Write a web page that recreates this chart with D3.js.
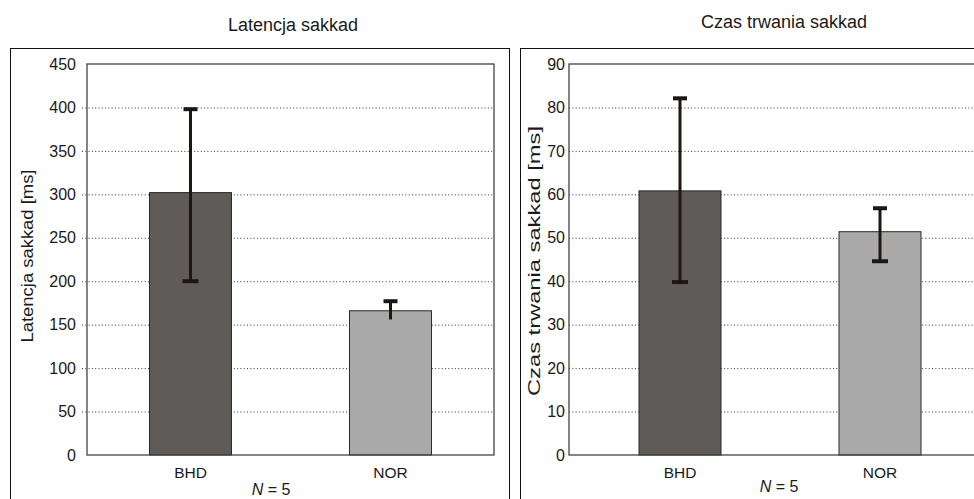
<!DOCTYPE html>
<html>
<head>
<meta charset="utf-8">
<title>Latencja i czas trwania sakkad</title>
<script src="https://d3js.org/d3.v7.min.js"></script>
<style>
  body { margin: 0; background: #fff; }
  svg { display: block; font-family: "Liberation Sans", Arial, sans-serif; }
  .grid line { stroke: #333; stroke-width: 1; stroke-dasharray: 1 2.3; }
  .grid .domain { display: none; }
  .yaxis .domain, .yaxis line { display: none; }
  .yaxis text { font-size: 16px; fill: #1a1a1a; }
</style>
</head>
<body>
<svg id="chart" width="974" height="499"></svg>
<script>
// categories on the x axis
var categories = ["BHD", "NOR"];

// Latencja sakkad [ms] - mean and error bar ends
var latencyMean = [302, 166];
var latencyLow = [200, 156];
var latencyHigh = [398, 177];
var latencyTicks = [0, 50, 100, 150, 200, 250, 300, 350, 400, 450];

// Czas trwania sakkad [ms] - mean and error bar ends
var durationMean = [60.8, 51.4];
var durationLow = [39.8, 44.6];
var durationHigh = [82.1, 56.8];
var durationTicks = [0, 10, 20, 30, 40, 50, 60, 70, 80, 90];

var barColors = ["#5f5b58", "#a9a9a9"];

var svg = d3.select("#chart");

function drawPanel(p) {
    var g = svg.append("g");

    // outer frame of the panel
    g.append("rect")
        .attr("x", p.box[0] + 0.5).attr("y", p.box[1] + 0.5)
        .attr("width", p.box[2]).attr("height", p.box[3])
        .attr("fill", "none").attr("stroke", "#111").attr("stroke-width", 1);

    var x = d3.scaleBand()
        .domain(categories)
        .range([p.left, p.right])
        .paddingInner(0.59)
        .paddingOuter(p.outer);

    var y = d3.scaleLinear()
        .domain([0, p.ticks[p.ticks.length - 1]])
        .range([p.bottom, p.top]);

    var rows = categories.map(function(c, i) {
        return { cat: c, mean: p.mean[i], low: p.low[i], high: p.high[i], lowCap: p.lowCap[i], color: barColors[i] };
    });

    // dotted grid lines
    g.append("g").attr("class", "grid")
        .attr("transform", "translate(" + (p.left - p.tickOut) + ",0)")
        .call(d3.axisLeft(y).tickValues(p.ticks.slice(1, -1)).tickSize(-(p.right - p.left + p.tickOut)).tickFormat(""));

    // tick labels
    g.append("g").attr("class", "yaxis")
        .attr("transform", "translate(" + p.left + ",0)")
        .call(d3.axisLeft(y).tickValues(p.ticks).tickSize(0).tickPadding(p.pad));

    // bars
    g.selectAll("rect.bar").data(rows).enter().append("rect")
        .attr("class", "bar")
        .attr("x", function(d) { return x(d.cat); })
        .attr("width", x.bandwidth())
        .attr("y", function(d) { return y(d.mean); })
        .attr("height", function(d) { return y(0) - y(d.mean); })
        .attr("fill", function(d) { return d.color; })
        .attr("stroke", "#2b2b2b")
        .attr("stroke-width", 1);

    // plot area border
    g.append("rect")
        .attr("x", p.left).attr("y", p.top)
        .attr("width", p.right - p.left).attr("height", p.bottom - p.top)
        .attr("fill", "none").attr("stroke", "#444").attr("stroke-width", 1.3);

    // error bars
    var eb = g.selectAll("g.err").data(rows).enter().append("g").attr("class", "err");
    var cx = function(d) { return x(d.cat) + x.bandwidth() / 2; };
    eb.append("line")
        .attr("x1", cx).attr("x2", cx)
        .attr("y1", function(d) { return y(d.low); })
        .attr("y2", function(d) { return y(d.high); })
        .attr("stroke", "#1c1714").attr("stroke-width", 3);
    eb.append("line")
        .attr("x1", function(d) { return cx(d) - 7; })
        .attr("x2", function(d) { return cx(d) + 7; })
        .attr("y1", function(d) { return y(d.high); })
        .attr("y2", function(d) { return y(d.high); })
        .attr("stroke", "#1c1714").attr("stroke-width", 4);
    eb.filter(function(d) { return d.lowCap; }).append("line")
        .attr("x1", function(d) { return cx(d) - 8; })
        .attr("x2", function(d) { return cx(d) + 8; })
        .attr("y1", function(d) { return y(d.low); })
        .attr("y2", function(d) { return y(d.low); })
        .attr("stroke", "#1c1714").attr("stroke-width", 4);

    // category labels
    g.selectAll("text.cat").data(rows).enter().append("text")
        .attr("class", "cat")
        .attr("x", cx)
        .attr("y", 478)
        .attr("text-anchor", "middle")
        .attr("font-size", 15.5)
        .attr("fill", "#1a1a1a")
        .text(function(d) { return d.cat; });

    // chart title
    g.append("text")
        .attr("x", p.titleX).attr("y", p.titleY)
        .attr("text-anchor", "middle")
        .attr("font-size", 18)
        .attr("fill", "#1a1a1a")
        .text(p.title);

    // y axis title
    g.append("text")
        .attr("transform", "translate(" + p.yTitleX + "," + p.yTitleY + ") rotate(-90)")
        .attr("text-anchor", "middle")
        .attr("font-size", 17)
        .attr("fill", "#1a1a1a")
        .attr("textLength", p.yTitleLen)
        .attr("lengthAdjust", "spacingAndGlyphs")
        .text(p.yTitle);

    // N = 5
    var n = g.append("text")
        .attr("x", p.nX).attr("y", p.nY)
        .attr("text-anchor", "middle")
        .attr("font-size", 16)
        .attr("fill", "#1a1a1a");
    n.append("tspan").attr("font-style", "italic").text("N");
    n.append("tspan").text(" = 5");
}

drawPanel({
    box: [10, 48, 499, 470],
    left: 87, right: 494, top: 64, bottom: 455, outer: 0.3125,
    tickOut: 5, pad: 11,
    ticks: latencyTicks,
    mean: latencyMean, low: latencyLow, high: latencyHigh,
    lowCap: [true, false],
    title: "Latencja sakkad", titleX: 293, titleY: 31,
    yTitle: "Latencja sakkad [ms]", yTitleX: 33, yTitleY: 256, yTitleLen: 173,
    nX: 271, nY: 495
});

drawPanel({
    box: [520, 48, 470, 470],
    left: 569, right: 991, top: 64, bottom: 455, outer: 0.35,
    tickOut: 0, pad: 4,
    ticks: durationTicks,
    mean: durationMean, low: durationLow, high: durationHigh,
    lowCap: [true, true],
    title: "Czas trwania sakkad", titleX: 784, titleY: 28,
    yTitle: "Czas trwania sakkad [ms]", yTitleX: 540, yTitleY: 261, yTitleLen: 270,
    nX: 779, nY: 492
});
</script>
</body>
</html>
